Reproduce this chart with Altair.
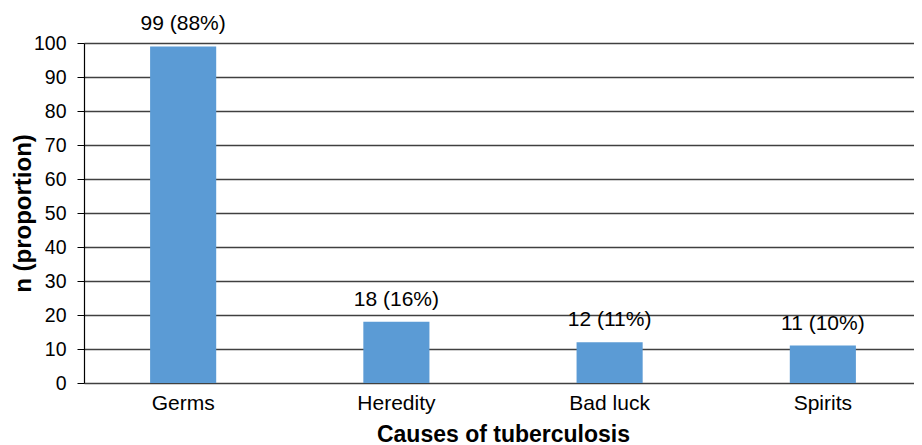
import altair as alt
import pandas as pd

causes = ["Germs", "Heredity", "Bad luck", "Spirits"]
counts = [99, 18, 12, 11]
labels = ["99 (88%)", "18 (16%)", "12 (11%)", "11 (10%)"]

df = pd.DataFrame({"cause": causes, "n": counts, "label": labels})

FONT = "Liberation Sans"

x = alt.X(
    "cause:N",
    sort=causes,
    title="Causes of tuberculosis",
    scale=alt.Scale(paddingInner=0.69, paddingOuter=0.31),
    axis=alt.Axis(
        labelAngle=0, ticks=False, domain=False, labelPadding=9,
        labelFontSize=21, labelColor="#000000", labelFont=FONT,
        titleFont=FONT, titleFontSize=23, titleFontWeight="bold",
        titleColor="#000000", titlePadding=10,
    ),
)
y = alt.Y(
    "n:Q",
    title="n (proportion)",
    scale=alt.Scale(domain=[0, 100], nice=False),
    axis=alt.Axis(
        values=list(range(0, 101, 10)), labelOverlap=False, tickSize=7,
        tickColor="#000000", domainColor="#000000", domainWidth=1.2,
        gridColor="#404040", gridWidth=1.3, labelPadding=11,
        labelFontSize=19.5, labelColor="#000000", labelFont=FONT,
        titleFont=FONT, titleFontSize=24, titleFontWeight="bold",
        titleColor="#000000", titleAngle=-90, titleBaseline="middle",
        titleAlign="center", titleX=-61, titleY=170,
    ),
)

bars = alt.Chart(df).mark_bar(color="#5B9BD5").encode(x=x, y=y)
text = alt.Chart(df).mark_text(
    baseline="alphabetic", dy=-16, fontSize=21, font=FONT, color="#000000"
).encode(x=x, y=y, text="label:N")

chart = (
    alt.layer(bars, text)
    .properties(
        width=838, height=340,
        autosize=alt.AutoSizeParams(type="none"),
        padding={"left": 76, "top": 35, "right": -8, "bottom": 62},
    )
    .configure_view(stroke=None)
)

chart.save("out.html", embed_options={"renderer": "svg", "actions": False})
